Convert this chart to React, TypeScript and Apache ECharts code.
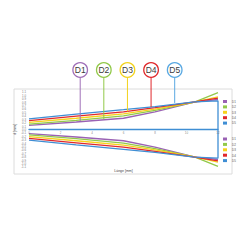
import React, { useEffect, useRef } from "react";
import * as echarts from "echarts";

const seriesNames = ["D1", "D2", "D3", "D4", "D5"];
const colors = ["#9a62b4", "#92c94a", "#f6d21c", "#e0282c", "#3f8ed4"];
const circleColors = ["#a070b8", "#92c94a", "#f2d21c", "#e0282c", "#5aa8e2"];
const xValues = [0, 3, 6, 8, 10.5, 12];
const d1 = [0.12, 0.22, 0.33, 0.52, 0.8, 0.88];
const d2 = [0.16, 0.27, 0.4, 0.56, 0.8, 1.08];
const d3 = [0.21, 0.33, 0.46, 0.6, 0.8, 0.96];
const d4 = [0.26, 0.39, 0.52, 0.64, 0.81, 0.92];
const d5 = [0.31, 0.45, 0.58, 0.67, 0.81, 0.84];
const markerX = [3.25, 4.75, 6.25, 7.75, 9.25];
const markerEndY = [0.245, 0.3, 0.53, 0.66, 0.78];
const xTicks = [0, 2, 4, 6, 8, 10, 12];

export default function App() {
  const ref = useRef<HTMLDivElement>(null);
  useEffect(() => {
    if (!ref.current) return;
    const chart = echarts.init(ref.current, null, { renderer: "svg" });
    const all = [d1, d2, d3, d4, d5];
    const upper = all.map((arr, i) => {
      const data: number[][] = xValues.map((x, j) => [x, arr[j]]);
      if (i === 4) data.push([12, 0]);
      return {
        name: seriesNames[i],
        type: "line",
        data,
        showSymbol: false,
        symbol: "none",
        lineStyle: { color: colors[i], width: 1.3 },
        itemStyle: { color: colors[i] },
        z: 2 + i,
      };
    });
    const lower = all.map((arr, i) => {
      const data: number[][] = xValues.map((x, j) => [x, -arr[j]]);
      if (i === 4) data.push([12, 0]);
      return {
        name: seriesNames[i] + " ",
        type: "line",
        data,
        showSymbol: false,
        symbol: "none",
        lineStyle: { color: colors[i], width: 1.3 },
        itemStyle: { color: colors[i] },
        z: 2 + i,
      };
    });
    const tickLabels = {
      name: "ticks",
      type: "scatter",
      data: xTicks.map((x) => [x, 0]),
      symbolSize: 0,
      silent: true,
      z: 20,
      label: {
        show: true,
        position: "bottom",
        distance: 1.5,
        fontSize: 3,
        color: "#666",
        fontFamily: "Liberation Sans",
        formatter: (p: any) => String(p.value[0]),
      },
    };
    const legendCommon = {
      orient: "vertical",
      left: 223,
      itemWidth: 4,
      itemHeight: 3,
      itemGap: 2.4,
      icon: "rect",
      textStyle: { fontSize: 3, color: "#555", fontFamily: "Liberation Sans" },
      padding: 0,
      formatter: (n: string) => n.trim(),
    };
    chart.setOption({
      animation: false,
      grid: { left: 29, right: 32, top: 92, bottom: 83, containLabel: false },
      legend: [
        { ...legendCommon, top: 100, data: seriesNames },
        { ...legendCommon, top: 137.5, data: seriesNames.map((n) => n + " ") },
      ],
      xAxis: {
        type: "value",
        min: 0,
        max: 12,
        interval: 2,
        axisLine: { show: true, onZero: true, lineStyle: { color: colors[4], width: 1.3 } },
        axisTick: { show: false },
        splitLine: { show: false },
        axisLabel: { show: false },
      },
      yAxis: {
        type: "value",
        min: -1.1,
        max: 1.1,
        interval: 0.1,
        name: "d [mm]",
        nameLocation: "middle",
        nameGap: 12,
        nameMoveOverlap: false,
        nameRotate: 90,
        nameTextStyle: { fontSize: 3.5, color: "#444", fontFamily: "Liberation Sans" },
        axisLine: { show: false },
        axisTick: { show: false },
        splitLine: { show: false },
        axisLabel: {
          fontSize: 2.8,
          color: "#777",
          margin: 3,
          fontFamily: "Liberation Sans",
          formatter: (v: number) => (Math.abs(v) < 1e-9 ? "0.0" : v.toFixed(1)),
        },
      },
      series: [...upper, ...lower, tickLabels],
    });
    const bottom = chart.convertToPixel({ gridIndex: 0 }, [6, -1.1]) as number[];
    const g: any[] = [
      {
        type: "rect",
        shape: { x: 14, y: 89, width: 218, height: 85 },
        style: { fill: "none", stroke: "#dcdcdc", lineWidth: 1 },
        z: 0,
      },
      {
        type: "text",
        x: bottom[0],
        y: bottom[1] + 1.5,
        style: {
          text: "Länge [mm]",
          fontSize: 3.5,
          fill: "#444",
          align: "center",
          verticalAlign: "top",
          fontFamily: "Liberation Sans",
        },
      },
    ];
    markerX.forEach((mx, i) => {
      const p = chart.convertToPixel({ gridIndex: 0 }, [mx, markerEndY[i]]) as number[];
      const cy = 70;
      const r = 7.3;
      g.push({
        type: "line",
        shape: { x1: p[0], y1: cy + r, x2: p[0], y2: p[1] },
        style: { stroke: circleColors[i], lineWidth: 1 },
        z: 10,
      });
      g.push({
        type: "circle",
        shape: { cx: p[0], cy, r },
        style: { fill: "#fff", stroke: circleColors[i], lineWidth: 1.3 },
        z: 11,
      });
      g.push({
        type: "text",
        x: p[0],
        y: cy,
        style: {
          text: seriesNames[i],
          fontSize: 8.5,
          fill: "#3a3a3a",
          align: "center",
          verticalAlign: "middle",
          fontFamily: "Liberation Sans",
        },
        z: 12,
      });
    });
    chart.setOption({ graphic: g });
    return () => chart.dispose();
  }, []);
  return <div ref={ref} style={{ width: 250, height: 250, marginLeft: -8, marginTop: -8 }} />;
}
